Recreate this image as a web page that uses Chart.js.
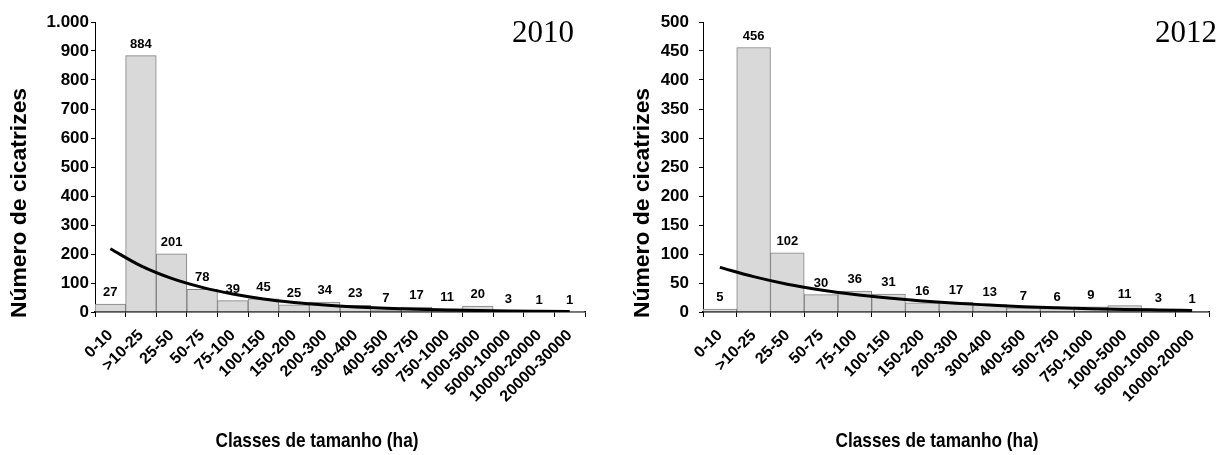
<!DOCTYPE html>
<html>
<head>
<meta charset="utf-8">
<script src="https://cdn.jsdelivr.net/npm/chart.js@4.4.1/dist/chart.umd.min.js"></script>
<style>
  body { margin: 0; background: #fff; }
  .wrap { position: absolute; top: 0; width: 609px; height: 455px; }
  #left { left: 0; }
  #right { left: 609px; }
</style>
</head>
<body>
<div class="wrap" id="left"><canvas id="chart2010" width="609" height="455"></canvas></div>
<div class="wrap" id="right"><canvas id="chart2012" width="609" height="455"></canvas></div>
<script>
// size classes (ha)
const classes2010 = ['0-10', '>10-25', '25-50', '50-75', '75-100', '100-150', '150-200', '200-300',
  '300-400', '400-500', '500-750', '750-1000', '1000-5000', '5000-10000', '10000-20000', '20000-30000'];
const classes2012 = ['0-10', '>10-25', '25-50', '50-75', '75-100', '100-150', '150-200', '200-300',
  '300-400', '400-500', '500-750', '750-1000', '1000-5000', '5000-10000', '10000-20000'];

// number of scars per class
const counts2010 = [27, 884, 201, 78, 39, 45, 25, 34, 23, 7, 17, 11, 20, 3, 1, 1];
const counts2012 = [5, 456, 102, 30, 36, 31, 16, 17, 13, 7, 6, 9, 11, 3, 1];

// exponential trend line
const trend2010 = [218, 159, 116, 85, 62, 45, 33, 24, 17.5, 12.8, 9.3, 6.8, 5, 3.6, 2.7, 1.9];
const trend2012 = [77, 61, 48, 38, 30, 24, 19, 15, 12, 9.2, 7.3, 5.8, 4.5, 3.6, 2.8];

// y axis ticks
const yMax2010 = 1000, yStep2010 = 100;
const yMax2012 = 500, yStep2012 = 50;

const SANS = "'Liberation Sans', Arial, sans-serif";
const SERIF = "'Liberation Serif', 'Times New Roman', serif";

// value labels above the bars
const barLabels = {
    id: 'barLabels',
    afterDatasetsDraw(chart) {
        const ctx = chart.ctx;
        const meta = chart.getDatasetMeta(0);
        const values = chart.data.datasets[0].data;
        ctx.save();
        ctx.font = 'bold 13px ' + SANS;
        ctx.fillStyle = '#000';
        ctx.textAlign = 'center';
        ctx.textBaseline = 'alphabetic';
        meta.data.forEach((bar, i) => {
            ctx.fillText(String(values[i]), bar.x, bar.y - 8);
        });
        ctx.restore();
    }
};

// axis titles and year, placed freely
const extraText = {
    id: 'extraText',
    afterDraw(chart, args, opts) {
        const ctx = chart.ctx;
        (opts.items || []).forEach(t => {
            ctx.save();
            ctx.font = t.font;
            ctx.fillStyle = '#000';
            ctx.textAlign = 'center';
            ctx.textBaseline = 'middle';
            ctx.translate(t.x, t.y);
            if (t.rotate) ctx.rotate(t.rotate);
            ctx.scale(t.sx || 1, 1);
            ctx.fillText(t.text, 0, 0);
            ctx.restore();
        });
    }
};

function fmt(v) {
    return v >= 1000 ? String(v).replace(/(\d)(\d{3})$/, '$1.$2') : String(v);
}

function makeChart(id, labels, counts, trend, yMax, yStep, opts) {
    const ctx = document.getElementById(id).getContext('2d');
    return new Chart(ctx, {
        type: 'bar',
        data: {
            labels: labels,
            datasets: [
                {
                    type: 'bar',
                    data: counts,
                    backgroundColor: '#d9d9d9',
                    borderColor: '#808080',
                    borderWidth: 1,
                    barPercentage: 1,
                    categoryPercentage: 1,
                    order: 2
                },
                {
                    type: 'line',
                    data: trend,
                    borderColor: '#000',
                    borderWidth: 3,
                    pointRadius: 0,
                    cubicInterpolationMode: 'monotone',
                    fill: false,
                    order: 1
                }
            ]
        },
        options: {
            responsive: false,
            animation: false,
            layout: { padding: { top: 22, right: opts.padRight, left: 0, bottom: 0 } },
            plugins: {
                legend: { display: false },
                tooltip: { enabled: false },
                extraText: { items: opts.texts }
            },
            scales: {
                x: {
                    grid: { drawOnChartArea: false, tickLength: 5, color: '#000', offset: true },
                    border: { color: '#000', width: 1.5 },
                    ticks: {
                        autoSkip: false, maxRotation: 45, minRotation: 45, padding: 9,
                        color: '#000', font: { family: SANS, size: 16, weight: 'bold' }
                    },
                    afterFit: s => { s.height = 143; }
                },
                y: {
                    min: 0, max: yMax,
                    grid: { drawOnChartArea: false, tickLength: 4, color: '#000' },
                    border: { color: '#000', width: 1 },
                    ticks: {
                        stepSize: yStep, padding: opts.tickPad, color: '#000',
                        font: { family: SANS, size: 17, weight: 'bold' },
                        callback: v => fmt(v)
                    },
                    afterFit: s => { s.width = opts.yWidth; }
                }
            }
        },
        plugins: [barLabels, extraText]
    });
}

document.addEventListener('DOMContentLoaded', function() {
    makeChart('chart2010', classes2010, counts2010, trend2010, yMax2010, yStep2010, {
        padRight: 24, yWidth: 95, tickPad: 2,
        texts: [
            { text: 'Número de cicatrizes', x: 20, y: 203, rotate: -Math.PI / 2, sx: 1.04, font: 'bold 22px ' + SANS },
            { text: 'Classes de tamanho (ha)', x: 317, y: 441, sx: 0.82, font: 'bold 21px ' + SANS },
            { text: '2010', x: 543, y: 34, font: '31px ' + SERIF }
        ]
    });
    makeChart('chart2012', classes2012, counts2012, trend2012, yMax2012, yStep2012, {
        padRight: 9, yWidth: 94, tickPad: 10,
        texts: [
            { text: 'Número de cicatrizes', x: 34, y: 203, rotate: -Math.PI / 2, sx: 1.04, font: 'bold 22px ' + SANS },
            { text: 'Classes de tamanho (ha)', x: 328, y: 441, sx: 0.82, font: 'bold 21px ' + SANS },
            { text: '2012', x: 577, y: 34, font: '31px ' + SERIF }
        ]
    });
});
</script>
</body>
</html>
